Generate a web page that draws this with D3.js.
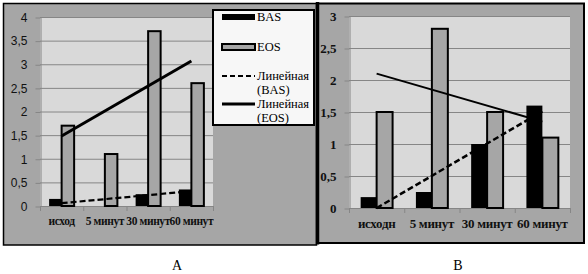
<!DOCTYPE html>
<html><head><meta charset="utf-8">
<script src="https://cdn.jsdelivr.net/npm/d3@7"></script>
<style>body{margin:0;background:#fff}</style>
</head><body><svg id="fig" width="588" height="274"></svg>
<script>
// values
var categories_A = ["исход", "5 минут", "30 минут", "60 минут"];
var bas_A = [0.15, 0, 0.25, 0.35];
var eos_A = [1.7, 1.1, 3.7, 2.6];
var ticks_A = [0, 0.5, 1, 1.5, 2, 2.5, 3, 3.5, 4];

var categories_B = ["исходн", "5 минут", "30 минут", "60 минут"];
var bas_B = [0.17, 0.25, 1.0, 1.6];
var eos_B = [1.5, 2.8, 1.5, 1.1];
var ticks_B = [0, 0.5, 1, 1.5, 2, 2.5, 3];

var series = ["BAS", "EOS"];
var legend_labels = [["BAS"], ["EOS"], ["Линейная", "(BAS)"], ["Линейная", "(EOS)"]];
var captions = ["А", "В"];

var bg = "#a6a6a6", plot_bg = "#d9d9d9", grid = "#868686", eos_fill = "#a6a6a6";
var serif = "'Liberation Serif', 'Times New Roman', serif";
var sans = "'Liberation Sans', Arial, sans-serif";
var svg = d3.select("#fig");
var comma = d => String(d).replace(".", ",");

// least squares line through (1..n, values), evaluated at each category
function trend(values){
  let n = values.length;
  let xs = d3.range(1, n + 1);
  let mx = d3.mean(xs), my = d3.mean(values);
  let slope = d3.sum(xs, (x, i) => (x - mx) * (values[i] - my)) / d3.sum(xs, x => (x - mx) * (x - mx));
  return xs.map(x => my + slope * (x - mx));
}

function draw_chart(o){
  var g = svg.append("g");
  var x0 = d3.scaleBand().domain(o.cats).range([o.left, o.right]);
  var x1 = d3.scaleBand().domain(series).range([0, x0.bandwidth()]).paddingOuter(0.73);
  var y = d3.scaleLinear().domain([0, o.ymax]).range([o.bottom, o.top]);

  g.append("rect").attr("x", o.left).attr("y", o.top)
    .attr("width", o.right - o.left).attr("height", o.bottom - o.top).attr("fill", plot_bg);

  // gridlines
  g.selectAll(".grid").data(o.ticks.filter(d => d > 0)).enter().append("line")
    .attr("x1", o.left).attr("x2", o.right)
    .attr("y1", d => y(d) + 0.5).attr("y2", d => y(d) + 0.5)
    .attr("stroke", grid).attr("stroke-width", 1);

  // y axis
  var ya = g.append("g").attr("transform", "translate(" + (o.left + 0.5) + ",0.5)")
    .call(d3.axisLeft(y).tickValues(o.ticks).tickFormat(comma).tickSize(5).tickSizeOuter(0).tickPadding(o.ypad));
  ya.attr("font-family", null);
  ya.select(".domain").attr("stroke", grid);
  ya.selectAll(".tick line").attr("stroke", grid);
  ya.selectAll(".tick text").style("font-family", o.yfont).attr("font-weight", o.yweight)
    .attr("font-size", o.ysize).attr("fill", "#111");

  // x axis: labels at the centres, ticks at the band edges
  var xa = g.append("g").attr("transform", "translate(0," + (o.bottom + 0.5) + ")")
    .call(d3.axisBottom(x0).tickSize(0).tickPadding(o.xpad));
  xa.attr("font-family", null);
  xa.select(".domain").remove();
  xa.selectAll(".tick text").style("font-family", serif).attr("font-weight", "bold")
    .attr("font-size", o.xsize).attr("letter-spacing", o.xspace).attr("fill", "#111");
  g.append("line").attr("x1", o.left).attr("x2", o.right)
    .attr("y1", o.bottom + 0.5).attr("y2", o.bottom + 0.5).attr("stroke", grid);
  g.selectAll(".xt").data(o.cats.concat(["_end"])).enter().append("line")
    .attr("x1", d => (d == "_end" ? o.right : x0(d)) + 0.5)
    .attr("x2", d => (d == "_end" ? o.right : x0(d)) + 0.5)
    .attr("y1", o.bottom).attr("y2", o.bottom + 5).attr("stroke", grid);

  // bars
  var rows = o.cats.map((c, i) => ({cat: c, BAS: o.bas[i], EOS: o.eos[i]}));
  var groups = g.selectAll(".grp").data(rows).enter().append("g")
    .attr("transform", d => "translate(" + x0(d.cat) + ",0)");
  groups.selectAll("rect").data(d => series.map(s => ({key: s, value: d[s]})))
    .enter().append("rect")
    .filter(d => d.value > 0)
    .attr("x", d => x1(d.key))
    .attr("y", d => y(d.value))
    .attr("width", x1.bandwidth())
    .attr("height", d => y(0) - y(d.value))
    .attr("fill", d => d.key == "BAS" ? "#000" : eos_fill)
    .attr("stroke", "#000")
    .attr("stroke-width", d => d.key == "BAS" ? 0 : o.barstroke);

  // linear trend lines
  var cx = c => x0(c) + x0.bandwidth() / 2;
  var line = d3.line().x(d => cx(d.cat)).y(d => y(d.v));
  [[o.bas, "6,3", o.dashw], [o.eos, null, o.solidw]].forEach(function(s){
    var t = trend(s[0]);
    var pts = [0, o.cats.length - 1].map(i => ({cat: o.cats[i], v: t[i]}));
    g.append("path").attr("d", line(pts)).attr("fill", "none")
      .attr("stroke", "#000").attr("stroke-width", s[2])
      .attr("stroke-dasharray", s[1]);
  });
}

// frames
svg.append("rect").attr("x", 3.5).attr("y", 3.5).attr("width", 313).attr("height", 241.5)
  .attr("fill", bg).attr("stroke", "#000").attr("stroke-width", 1.5);
svg.append("rect").attr("x", 318).attr("y", 3.5).attr("width", 266).attr("height", 239.5)
  .attr("fill", bg).attr("stroke", "#000").attr("stroke-width", 2);
svg.append("line").attr("x1", 317.5).attr("x2", 317.5).attr("y1", 2).attr("y2", 244.5)
  .attr("stroke", "#000").attr("stroke-width", 3.5);

draw_chart({cats: categories_A, bas: bas_A, eos: eos_A, ticks: ticks_A, ymax: 4,
  left: 40, right: 213, top: 17, bottom: 206,
  yfont: sans, yweight: "normal", ysize: 12, ypad: 8,
  xsize: 11.5, xspace: -0.4, xpad: 10,
  barstroke: 2, dashw: 2.2, solidw: 3});

draw_chart({cats: categories_B, bas: bas_B, eos: eos_B, ticks: ticks_B, ymax: 3,
  left: 349, right: 570, top: 16, bottom: 208,
  yfont: serif, yweight: "bold", ysize: 13, ypad: 8,
  xsize: 13, xspace: -0.3, xpad: 10,
  barstroke: 2, dashw: 2.5, solidw: 2});

// legend of chart A
var lg = svg.append("g");
lg.append("rect").attr("x", 213).attr("y", 10).attr("width", 101).attr("height", 115)
  .attr("fill", "#f7f7f7").attr("stroke", "#000").attr("stroke-width", 2);
var rowsY = [17, 47, 76, 104];
legend_labels.forEach(function(lab, i){
  var yy = rowsY[i];
  if (i == 0) lg.append("line").attr("x1", 222).attr("x2", 255).attr("y1", yy).attr("y2", yy)
    .attr("stroke", "#000").attr("stroke-width", 6);
  if (i == 1) lg.append("rect").attr("x", 222).attr("y", yy - 3).attr("width", 33).attr("height", 6)
    .attr("fill", eos_fill).attr("stroke", "#000").attr("stroke-width", 2);
  if (i == 2) lg.append("line").attr("x1", 222).attr("x2", 255).attr("y1", yy).attr("y2", yy)
    .attr("stroke", "#000").attr("stroke-width", 2).attr("stroke-dasharray", "5,3");
  if (i == 3) lg.append("line").attr("x1", 222).attr("x2", 255).attr("y1", yy).attr("y2", yy)
    .attr("stroke", "#000").attr("stroke-width", 3);
  lab.forEach(function(t, j){
    lg.append("text").attr("x", 257).attr("y", yy + 4 + j * 14)
      .style("font-family", serif).attr("font-size", 12.5).attr("fill", "#000").text(t);
  });
});

// captions
svg.selectAll(".cap").data(captions).enter().append("text")
  .attr("x", (d, i) => i == 0 ? 177 : 458).attr("y", 270)
  .attr("text-anchor", "middle").style("font-family", serif).attr("font-size", 14)
  .text(d => d);
</script></body></html>
